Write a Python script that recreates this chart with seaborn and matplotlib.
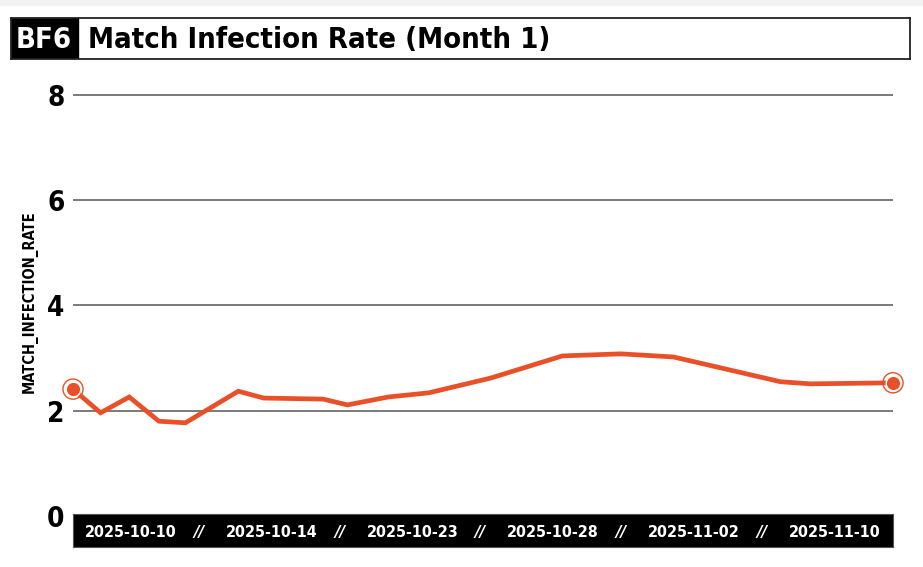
import pandas as pd
import numpy as np
import matplotlib
matplotlib.use('Agg')
import matplotlib.pyplot as plt
import seaborn as sns
from matplotlib import font_manager
from matplotlib.patches import Rectangle

# ------------------------------------------------------------
# data
# ------------------------------------------------------------
dates = ['2025-10-10 00:00', '2025-10-11 01:00', '2025-10-12 03:00', '2025-10-13 06:00',
         '2025-10-14 06:00', '2025-10-16 06:00', '2025-10-17 05:00', '2025-10-19 11:00',
         '2025-10-20 09:00', '2025-10-21 22:00', '2025-10-23 11:00', '2025-10-25 19:00',
         '2025-10-28 12:00', '2025-10-30 17:00', '2025-11-01 17:00', '2025-11-05 18:00',
         '2025-11-06 21:00', '2025-11-10 00:00']
rates = [2.41, 1.96, 2.26, 1.80, 1.77, 2.37, 2.24, 2.22, 2.11, 2.26, 2.34, 2.62,
         3.04, 3.08, 3.02, 2.55, 2.51, 2.53]
band_labels = ['2025-10-10', '2025-10-14', '2025-10-23', '2025-10-28', '2025-11-02', '2025-11-10']
y_ticks = [0, 2, 4, 6, 8]

title_tag = 'BF6'
title_text = 'Match Infection Rate (Month 1)'
y_label = 'MATCH_INFECTION_RATE'

df = pd.DataFrame({'date': pd.to_datetime(dates), 'rate': rates})

LINE = '#E8502A'
GRID = '#707070'

sns.set_style('white')
names = {f.name for f in font_manager.fontManager.ttflist}
if 'Liberation Sans Narrow' in names:
    plt.rcParams['font.family'] = ['Liberation Sans Narrow', 'DejaVu Sans']
    stretch = 'normal'
else:
    plt.rcParams['font.family'] = ['DejaVu Sans']
    stretch = 'condensed'
plt.rcParams['text.color'] = 'black'

fig = plt.figure(figsize=(9.23, 5.67), dpi=100)
W, H = 923, 567

def frac(x0, y0, x1, y1):
    # pixel box (top-left origin) -> figure fraction rect
    return [x0 / W, 1 - y1 / H, (x1 - x0) / W, (y1 - y0) / H]

# light strip at very top
fig.patches.append(Rectangle((0, 1 - 5 / H), 1, 5 / H, transform=fig.transFigure,
                             color='#f2f2f2', zorder=0))

# ---- title bar
tax = fig.add_axes(frac(11, 18, 910, 59))
tax.set_xlim(0, 1)
tax.set_ylim(0, 1)
tax.set_xticks([])
tax.set_yticks([])
for s in tax.spines.values():
    s.set_color('#222222')
    s.set_linewidth(1.3)
tax.add_patch(Rectangle((0, 0), 67 / 899, 1, color='black'))
tax.text(33 / 899, 0.47, title_tag, color='white', fontsize=21, fontweight='bold',
         fontstretch=stretch, ha='center', va='center')
tax.text(77 / 899, 0.47, title_text, color='black', fontsize=21, fontweight='bold',
         fontstretch=stretch, ha='left', va='center')

# ---- main line chart
ax = fig.add_axes(frac(73, 79, 893, 516))
sns.lineplot(data=df, x='date', y='rate', ax=ax, color=LINE, linewidth=3.4,
             solid_joinstyle='miter', zorder=3)
ends = df.iloc[[0, -1]]
ax.scatter(ends['date'], ends['rate'], s=210, facecolor='none', edgecolor=LINE,
           linewidth=1.0, zorder=4, clip_on=False)
ax.scatter(ends['date'], ends['rate'], s=110, color=LINE, edgecolor='white',
           linewidth=1.0, zorder=5, clip_on=False)

ax.set_xlim(df['date'].iloc[0], df['date'].iloc[-1])
ax.set_ylim(0, 8.3)
ax.set_yticks(y_ticks)
ax.set_yticklabels([str(t) for t in y_ticks], fontsize=20, fontweight='bold',
                   fontstretch=stretch, color='black')
ax.tick_params(axis='y', length=0, pad=6)
ax.set_xticks([])
ax.set_xlabel('')
ax.set_ylabel(y_label, fontsize=10.5, fontweight='bold', fontstretch=stretch, color='black')
ax.yaxis.set_label_coords(-0.043, 0.49)
for t in y_ticks[1:]:
    ax.axhline(t, color=GRID, linewidth=1.3, zorder=1)
for s in ax.spines.values():
    s.set_visible(False)

# ---- date strip under the chart
bax = fig.add_axes(frac(73, 514, 893, 547))
bax.set_facecolor('black')
bax.set_xlim(0, 1)
bax.set_ylim(0, 1)
bax.set_xticks([])
bax.set_yticks([])
for s in bax.spines.values():
    s.set_color('#555555')
n = len(band_labels)
step = 0.1715
first = 0.071
for i, lab in enumerate(band_labels):
    xc = first + i * step
    bax.text(xc, 0.45, lab, color='white', fontsize=11.5, fontweight='bold',
             fontstretch=stretch, ha='center', va='center')
    if i < n - 1:
        bax.text(xc + step / 2 - 0.003, 0.45, '//', color='white', fontsize=11,
                 fontweight='bold', ha='center', va='center', style='italic')

plt.savefig('out.png', dpi=100)
plt.close()
